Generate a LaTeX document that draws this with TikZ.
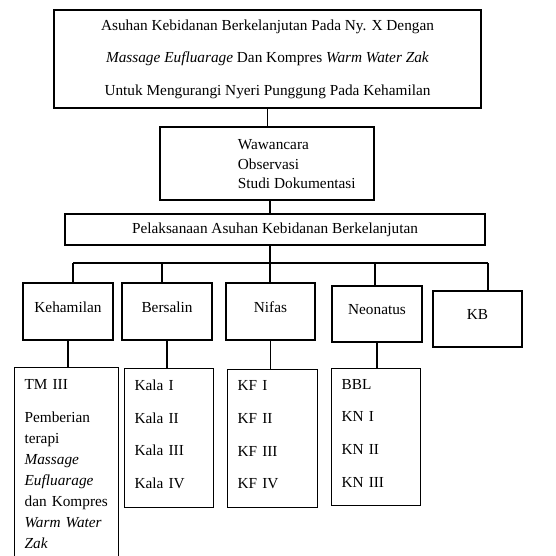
\documentclass[tikz,border=0pt]{standalone}
\usepackage{fontspec}
\setmainfont{Liberation Serif}
\usepackage{tikz}
\usetikzlibrary{positioning,calc}

\begin{document}
\begin{tikzpicture}[x=1pt, y=-1pt, line width=1.2pt,
        box/.style={draw, rectangle, inner sep=0pt, font=\fontsize{15.3}{18}\selectfont},
        hdr/.style={box, minimum width=90pt, minimum height=57pt, text height=10.5pt, text depth=9pt},
        list/.style={draw, rectangle, anchor=north west, align=left, inner xsep=10pt, inner ysep=0pt, font=\fontsize{15.3}{32.7}\selectfont}]
        \useasboundingbox (0,0) rectangle (555,556);
        \clip (0,0) rectangle (555,556);

        % Judul dan metode
        \node[box, minimum width=427pt, minimum height=98pt, align=center, font=\fontsize{15.3}{32.5}\selectfont] (judul) at (267.5,59) {Asuhan Kebidanan Berkelanjutan Pada Ny. X Dengan\\ \textit{Massage Eufluarage} Dan Kompres \textit{Warm Water Zak}\\ Untuk Mengurangi Nyeri Punggung Pada Kehamilan};
        \node[box, minimum width=214pt, minimum height=73pt] (metode) at (267,163.5) {};
        \node[anchor=west, align=left, font=\fontsize{15.3}{19.5}\selectfont] (metodeisi) at (234,164.5) {Wawancara\\ Observasi\\ Studi Dokumentasi};
        \node[box, minimum width=420pt, minimum height=31pt] (pelaksanaan) at (275,229.5) {Pelaksanaan Asuhan Kebidanan Berkelanjutan};

        % Tahap asuhan
        \node[hdr] (kehamilan) at (68,311.5) {Kehamilan};
        \node[hdr] (bersalin) at (167,311.5) {Bersalin};
        \node[hdr, minimum width=89pt] (nifas) at (270.5,311.5) {Nifas};
        \node[hdr, minimum height=56pt] (neonatus) at (377,314) {Neonatus};
        \node[hdr, minimum width=89pt, minimum height=56pt] (kb) at (477.5,319) {KB};

        % Rincian
        \node[list, text width=84pt, inner ysep=12pt, font=\fontsize{15.3}{21}\selectfont] (tm) at (14,367) {TM III\\[12pt] Pemberian\\ terapi\\ \textit{Massage}\\ \textit{Eufluarage}\\ dan Kompres\\ \textit{Warm Water}\\ \textit{Zak}};
        \node[list, text width=69pt, minimum height=139pt] (kala) at (124,368) {Kala I\\ Kala II\\ Kala III\\ Kala IV\\[-25pt]\mbox{}};
        \node[list, text width=70pt, minimum height=138pt] (kf) at (227,369) {KF I\\ KF II\\ KF III\\ KF IV\\[-25pt]\mbox{}};
        \node[list, text width=69pt, minimum height=137pt] (kn) at (331,368) {BBL\\ KN I\\ KN II\\ KN III\\[-25pt]\mbox{}};

        % Garis
        \foreach \x/\n in {73/kehamilan, 162/bersalin, 270/nifas, 375/neonatus, 488/kb}{
            \coordinate (c\n) at (\x,263);
            \draw (c\n) -- (c\n |- \n.north);
        }
        \draw (ckehamilan) -- (ckb);
        \draw (judul.south) -- (judul.south |- metode.north);
        \draw (cnifas |- metode.south) -- (cnifas |- pelaksanaan.north);
        \draw (cnifas |- pelaksanaan.south) -- (cnifas);
        \foreach \n/\m in {kehamilan/tm, bersalin/kala, nifas/kf, neonatus/kn}
            \draw (\n.south) -- (\n.south |- \m.north);
    \end{tikzpicture}
\end{document}
